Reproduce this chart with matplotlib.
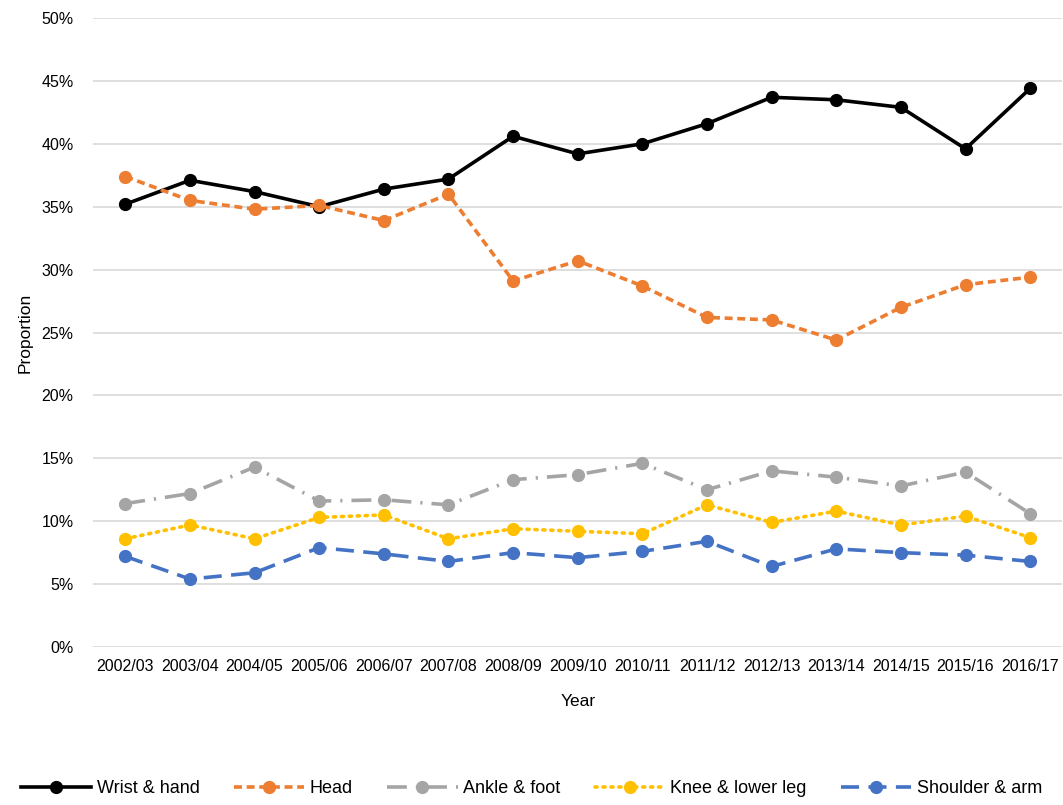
import matplotlib
matplotlib.use("Agg")
import matplotlib.pyplot as plt
from matplotlib.ticker import PercentFormatter

plt.rcParams['font.family'] = ['Liberation Sans', 'DejaVu Sans']

years = ["2002/03", "2003/04", "2004/05", "2005/06", "2006/07", "2007/08", "2008/09",
         "2009/10", "2010/11", "2011/12", "2012/13", "2013/14", "2014/15", "2015/16", "2016/17"]

wrist_hand = [35.2, 37.1, 36.2, 35.0, 36.4, 37.2, 40.6, 39.2, 40.0, 41.6, 43.7, 43.5, 42.9, 39.6, 44.4]
head = [37.4, 35.5, 34.8, 35.1, 33.9, 36.0, 29.1, 30.7, 28.7, 26.2, 26.0, 24.4, 27.0, 28.8, 29.4]
ankle_foot = [11.4, 12.2, 14.3, 11.6, 11.7, 11.3, 13.3, 13.7, 14.6, 12.5, 14.0, 13.5, 12.8, 13.9, 10.6]
knee_lower_leg = [8.6, 9.7, 8.6, 10.3, 10.5, 8.6, 9.4, 9.2, 9.0, 11.3, 9.9, 10.8, 9.7, 10.4, 8.7]
shoulder_arm = [7.2, 5.4, 5.9, 7.9, 7.4, 6.8, 7.5, 7.1, 7.6, 8.4, 6.4, 7.8, 7.5, 7.3, 6.8]

series = [
    ("Wrist & hand", wrist_hand, "#000000", "-"),
    ("Head", head, "#ED7D31", (0, (2.2, 1.3))),
    ("Ankle & foot", ankle_foot, "#A5A5A5", (0, (5.5, 2.5, 0.6, 2.5))),
    ("Knee & lower leg", knee_lower_leg, "#FFC000", (0, (0.6, 1.6))),
    ("Shoulder & arm", shoulder_arm, "#4472C4", (0, (5.0, 2.6))),
]

fig = plt.figure(figsize=(10.63, 8.05), dpi=100)
ax = fig.add_axes([0.0875, 0.1963, 0.912, 0.7813])

x = list(range(len(years)))
for name, vals, color, ls in series:
    ax.plot(x, vals, color=color, linestyle=ls, linewidth=2.6, marker="o",
            markersize=8.5, label=name,
            dash_capstyle="round" if name == "Knee & lower leg" else "butt")

ax.set_xlim(-0.5, len(years) - 0.5)
ax.set_ylim(0, 50)
ax.set_yticks(range(0, 51, 5))
ax.yaxis.set_major_formatter(PercentFormatter(decimals=0))
ax.set_xticks(x)
ax.set_xticklabels(years)
ax.tick_params(axis="both", length=0, labelsize=11.5, colors="#000000")
ax.tick_params(axis="y", pad=14)
ax.tick_params(axis="x", pad=9)
ax.grid(axis="y", color="#D9D9D9", linewidth=1.2)
ax.set_axisbelow(True)
for s in ax.spines.values():
    s.set_visible(False)

ax.set_xlabel("Year", fontsize=12.5, labelpad=14)
ax.set_ylabel("Proportion", fontsize=12.5, labelpad=6)

fig.legend(loc="center", bbox_to_anchor=(0.5, 0.02), ncol=5, frameon=False,
           fontsize=13, handlelength=3.9, columnspacing=1.9, handletextpad=0.3)

fig.savefig("out.png", dpi=100)
